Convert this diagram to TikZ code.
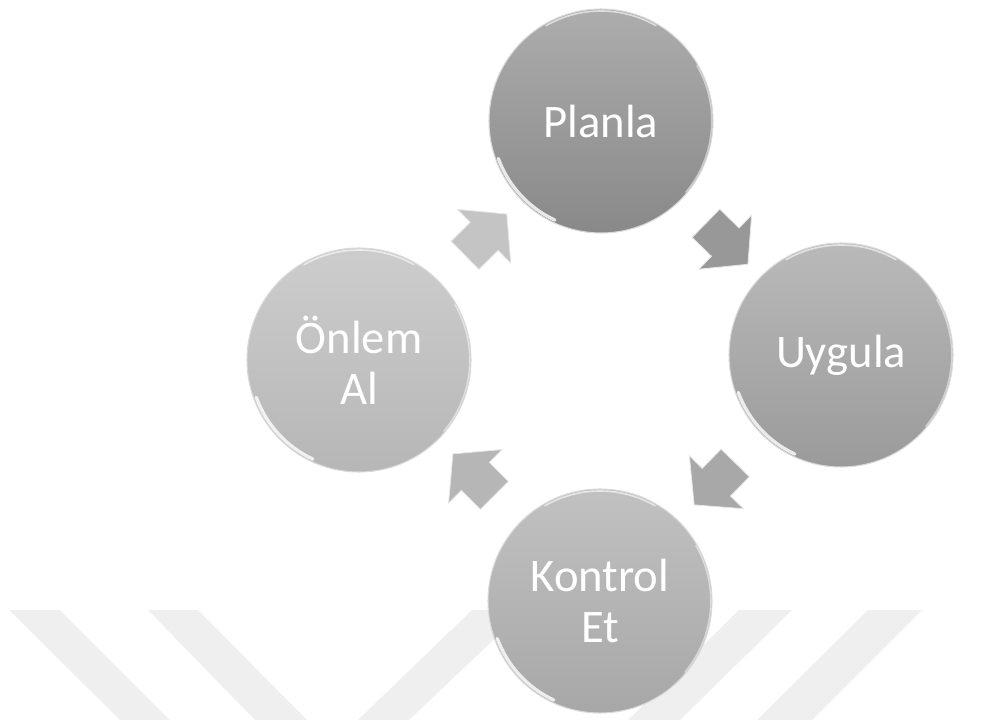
\documentclass[tikz,border=0pt]{standalone}
\usepackage{fontspec}
\setmainfont{Carlito}
\usetikzlibrary{shapes.arrows,calc}

\definecolor{planC}{HTML}{989898}
\definecolor{uygC}{HTML}{A8A8A8}
\definecolor{kontC}{HTML}{B6B6B6}
\definecolor{onlC}{HTML}{C4C4C4}
\definecolor{markC}{HTML}{EFEFEF}

\begin{document}
\begin{tikzpicture}[x=0.75pt,y=-0.75pt,
  stage/.style={circle,minimum size=168pt,inner sep=0pt,text=white,
    font=\fontsize{35}{38}\selectfont,align=center,
    draw=gray!30,line width=0.8pt},
  flow/.style={single arrow,draw=white!80!gray,line width=0.6pt,
    minimum height=44pt,minimum width=56pt,inner xsep=0pt,inner ysep=14.5pt,
    single arrow head extend=13.5pt,single arrow tip angle=100,
    sloped,allow upside down},
  gloss/.style={white,line cap=round,opacity=.8},
  stripe/.style={fill=markC,draw=none}]

  \useasboundingbox (0,0) rectangle (985,720);

  % faint background stripes
  \fill[stripe] (9,610) -- (60,610) -- (170,720) -- (120,720) -- cycle;
  \fill[stripe] (148,610) -- (198,610) -- (307,720) -- (255,720) -- cycle;
  \fill[stripe] (472,610) -- (525,610) -- (409,720) -- (358,720) -- cycle;
  \fill[stripe] (739,610) -- (792,610) -- (680,720) -- (628,720) -- cycle;
  \fill[stripe] (868,610) -- (922,610) -- (812,720) -- (757,720) -- cycle;

  % the four stages
  \node[stage,top color=planC!80!white,bottom color=planC!90!black] (planla) at (601,121) {Planla};
  \node[stage,top color=uygC!80!white,bottom color=uygC!92!black] (uygula) at (841,355) {Uygula};
  \node[stage,top color=kontC!85!white,bottom color=kontC!92!black] (kontrol) at (600,601) {Kontrol\\Et};
  \node[stage,top color=onlC!85!white,bottom color=onlC!93!black] (onlem) at (359,360) {Önlem\\Al};

  % glossy rims
  \foreach \n in {planla,uygula,kontrol,onlem} {
    \draw[gloss,line width=2.5pt] ($(\n.center)+(200:82pt)$) arc[start angle=200,end angle=245,radius=82pt];
    \draw[gloss,line width=1.2pt,opacity=.6] ($(\n.center)+(60:82.5pt)$) arc[start angle=60,end angle=120,radius=82.5pt];
    \draw[gloss,line width=1pt,opacity=.5] ($(\n.center)+(-40:83pt)$) arc[start angle=-40,end angle=30,radius=83pt];
  }

  % block arrows between the stages
  \path (planla)  -- node[flow,fill=planC] (a1) {} (uygula);
  \path (uygula)  -- node[flow,fill=uygC]  (a2) {} (kontrol);
  \path (kontrol) -- node[flow,fill=kontC] (a3) {} (onlem);
  \path (onlem)   -- node[flow,fill=onlC]  (a4) {} (planla);

\end{tikzpicture}
\end{document}
